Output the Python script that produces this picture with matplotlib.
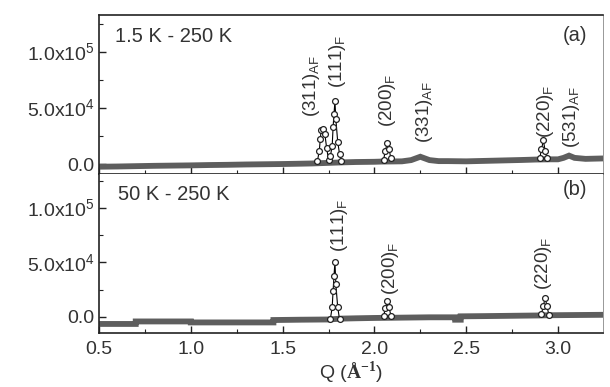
import matplotlib
matplotlib.use("Agg")
import matplotlib.pyplot as plt
from matplotlib.ticker import MultipleLocator, FixedLocator, FixedFormatter

plt.rcParams['font.family'] = ['Liberation Sans', 'DejaVu Sans']
plt.rcParams['mathtext.fontset'] = 'custom'
plt.rcParams['mathtext.rm'] = 'Liberation Sans'
plt.rcParams['mathtext.bf'] = 'Liberation Serif:bold'

TXT = '#333333'
BAND = '#5e5e5e'

# ---- panel (a): 1.5 K - 250 K difference ----
bg_a_q = [0.50, 0.60, 0.70, 0.80, 0.90, 1.00, 1.10, 1.20, 1.30, 1.40, 1.50, 1.60,
          1.66, 1.83, 1.90, 2.00, 2.04, 2.10, 2.15, 2.20, 2.25, 2.30, 2.35, 2.40,
          2.50, 2.60, 2.70, 2.80, 2.88, 2.96, 3.00, 3.03, 3.06, 3.09, 3.15, 3.25]
bg_a_i = [-2400, -2200, -1900, -1600, -1400, -1200, -900, -700, -400, -200, 0, 300,
          500, 1500, 1800, 2000, 2200, 2300, 2400, 3500, 6500, 3500, 2600, 2600,
          2400, 2800, 3200, 3600, 4000, 4200, 4200, 5500, 7500, 5500, 4600, 5000]

pk_a_q = [1.690, 1.700, 1.705, 1.710, 1.720, 1.730, 1.740, 1.750, 1.760,
          1.770, 1.775, 1.780, 1.785, 1.790, 1.800, 1.810, 1.820]
pk_a_i = [3000, 12000, 22000, 30000, 31000, 27000, 14000, 4000, 7000,
          16000, 33000, 45000, 56000, 40000, 20000, 9000, 3000]
pk_a2_q = [2.050, 2.060, 2.070, 2.080, 2.090]
pk_a2_i = [4000, 12000, 19000, 13000, 5000]
pk_a3_q = [2.900, 2.910, 2.920, 2.930, 2.940]
pk_a3_i = [5000, 13000, 21000, 12000, 5000]

# ---- panel (b): 50 K - 250 K difference ----
bg_b_q = [0.50, 0.70, 0.70, 1.00, 1.00, 1.20, 1.45, 1.45, 1.60, 1.75, 1.82,
          1.90, 2.00, 2.10, 2.20, 2.30, 2.44, 2.44, 2.47, 2.47, 2.60, 2.80,
          2.90, 2.96, 3.10, 3.25]
bg_b_i = [-6400, -6400, -4100, -4100, -5000, -5000, -5000, -2800, -2500, -2300, -1500,
          -1200, -900, -700, -500, -300, -300, -2500, -2500, 600, 800, 1200,
          1400, 1600, 1800, 2000]

pk_b_q = [1.760, 1.770, 1.775, 1.780, 1.785, 1.790, 1.800, 1.810]
pk_b_i = [-2000, 9000, 24000, 38000, 50500, 30000, 9000, -2000]
pk_b2_q = [2.050, 2.060, 2.070, 2.080, 2.090]
pk_b2_i = [1000, 8000, 14500, 9000, 1000]
pk_b3_q = [2.910, 2.920, 2.930, 2.940, 2.950]
pk_b3_i = [3000, 10000, 17500, 10000, 2000]

labels_a = [(1.660, 42000, r'(311)$_{\rm AF}$'),
            (1.800, 68000, r'(111)$_{\rm F}$'),
            (2.070, 33000, r'(200)$_{\rm F}$'),
            (2.275, 18500, r'(331)$_{\rm AF}$'),
            (2.930, 23000, r'(220)$_{\rm F}$'),
            (3.075, 14000, r'(531)$_{\rm AF}$')]
labels_b = [(1.810, 59500, r'(111)$_{\rm F}$'),
            (2.090, 20000, r'(200)$_{\rm F}$'),
            (2.920, 24800, r'(220)$_{\rm F}$')]

fig = plt.figure(figsize=(6.10, 3.87), dpi=100)
ax_a = fig.add_axes([99/610, 1-174/387, 504/610, 159/387])
ax_b = fig.add_axes([99/610, 1-333/387, 504/610, 159/387])


def draw(ax, bq, bi, peaks, labels, ylim):
    ax.plot(bq, bi, color=BAND, lw=4.2, solid_joinstyle='miter', zorder=2)
    for q, i in peaks:
        ax.plot(q, i, color='black', lw=0.8, marker='o', ms=4.2,
                mfc='white', mec='#222222', mew=0.9, zorder=3)
    for q, y, s in labels:
        ax.text(q, y, s, rotation=90, ha='center', va='bottom',
                fontsize=13.5, color=TXT)
    ax.set_xlim(0.5, 3.245)
    ax.set_ylim(*ylim)
    ax.yaxis.set_major_locator(FixedLocator([0, 5e4, 1e5]))
    ax.yaxis.set_major_formatter(FixedFormatter(['0.0', r'5.0x10$^4$', r'1.0x10$^5$']))
    ax.yaxis.set_minor_locator(MultipleLocator(2.5e4))
    ax.xaxis.set_major_locator(MultipleLocator(0.5))
    ax.xaxis.set_minor_locator(MultipleLocator(0.25))
    ax.tick_params(which='both', direction='in', top=False, right=False,
                   colors='#222222', labelcolor=TXT, labelsize=14)
    ax.tick_params(which='major', length=5, width=1)
    ax.tick_params(which='minor', length=3, width=0.8)
    ax.tick_params(axis='y', pad=3)
    ax.tick_params(axis='x', pad=6)
    for side in ax.spines.values():
        side.set_linewidth(1.2)
        side.set_color('#222222')
    ax.spines['right'].set_linewidth(0.6)
    ax.spines['right'].set_color('#888888')


draw(ax_a, bg_a_q, bg_a_i,
     [(pk_a_q, pk_a_i), (pk_a2_q, pk_a2_i), (pk_a3_q, pk_a3_i)],
     labels_a, (-8900, 133000))
draw(ax_b, bg_b_q, bg_b_i,
     [(pk_b_q, pk_b_i), (pk_b2_q, pk_b2_i), (pk_b3_q, pk_b3_i)],
     labels_b, (-14700, 131200))

ax_a.tick_params(axis='x', labelbottom=False)
ax_b.spines['top'].set_visible(False)

ax_a.text(0.032, 0.862, '1.5 K - 250 K', transform=ax_a.transAxes,
          fontsize=14.5, color=TXT, va='center')
ax_a.text(0.944, 0.874, '(a)', transform=ax_a.transAxes,
          fontsize=14.5, color=TXT, va='center', ha='center')
ax_b.text(0.038, 0.868, '50 K - 250 K', transform=ax_b.transAxes,
          fontsize=14.5, color=TXT, va='center')
ax_b.text(0.944, 0.90, '(b)', transform=ax_b.transAxes,
          fontsize=14.5, color=TXT, va='center', ha='center')

ax_b.set_xlabel(r'Q ($\mathbf{\AA}^{\mathbf{-1}}$)', fontsize=14, color=TXT, labelpad=1)

fig.savefig('out.png', dpi=100)
